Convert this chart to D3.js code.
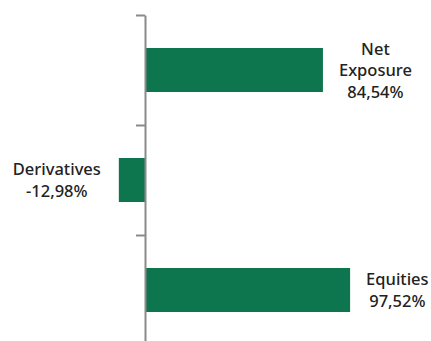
<!DOCTYPE html>
<html><head><meta charset="utf-8">
<script src="https://cdn.jsdelivr.net/npm/d3@7"></script>
<style>body{margin:0;background:#fff}svg{display:block}</style>
</head><body>
<svg id="c" width="431" height="341"></svg>
<script>
const categories = ["Net Exposure", "Derivatives", "Equities"];
const labelLines = [["Net", "Exposure"], ["Derivatives"], ["Equities"]];
const values = [84.54, -12.98, 97.52];
const valueLabels = ["84,54%", "-12,98%", "97,52%"];

const svg = d3.select("#c");
const x = d3.scaleLinear().domain([0, 100]).range([146, 355.3]);
const y = d3.scaleBand().domain(categories).range([15, 345]).paddingInner(0.6).paddingOuter(0.3);
const yEdge = d3.scaleLinear().domain([0, categories.length]).range([15, 345]);

svg.selectAll("rect.bar").data(values).join("rect")
  .attr("class", "bar")
  .attr("x", d => Math.min(x(0), x(d)))
  .attr("width", d => Math.abs(x(d) - x(0)))
  .attr("y", (d, i) => y(categories[i]))
  .attr("height", y.bandwidth())
  .attr("fill", "#0e764e");

const ax = svg.append("g").attr("transform", `translate(${x(0) - 1},0)`)
  .call(d3.axisLeft(yEdge).tickValues(d3.range(categories.length + 1)).tickFormat("").tickSize(9).tickSizeOuter(0));
ax.select(".domain").attr("stroke", "#8a8a8a").attr("stroke-width", 2);
ax.selectAll(".tick line").attr("stroke", "#8a8a8a").attr("stroke-width", 2);

const lh = 21.5;
values.forEach((v, i) => {
  const lines = labelLines[i].concat([valueLabels[i]]);
  const cy = y(categories[i]) + y.bandwidth() / 2;
  const g = svg.append("g");
  const t = g.append("text")
    .attr("font-family", "'Noto Sans', sans-serif")
    .attr("font-size", 16.5)
    .attr("font-weight", 500)
    .attr("fill", "#222")
    .attr("text-anchor", "middle");
  const first = cy - (lines.length - 1) * lh / 2 + 6;
  lines.forEach((s, k) => {
    t.append("tspan").attr("x", 0).attr("y", first + k * lh).text(s);
  });
  let w = 0;
  t.selectAll("tspan").each(function(){ w = Math.max(w, this.getComputedTextLength()); });
  const cx = v >= 0 ? x(v) + 16 + w / 2 : x(v) - 18 - w / 2;
  t.selectAll("tspan").attr("x", cx);
});
</script>
</body></html>
